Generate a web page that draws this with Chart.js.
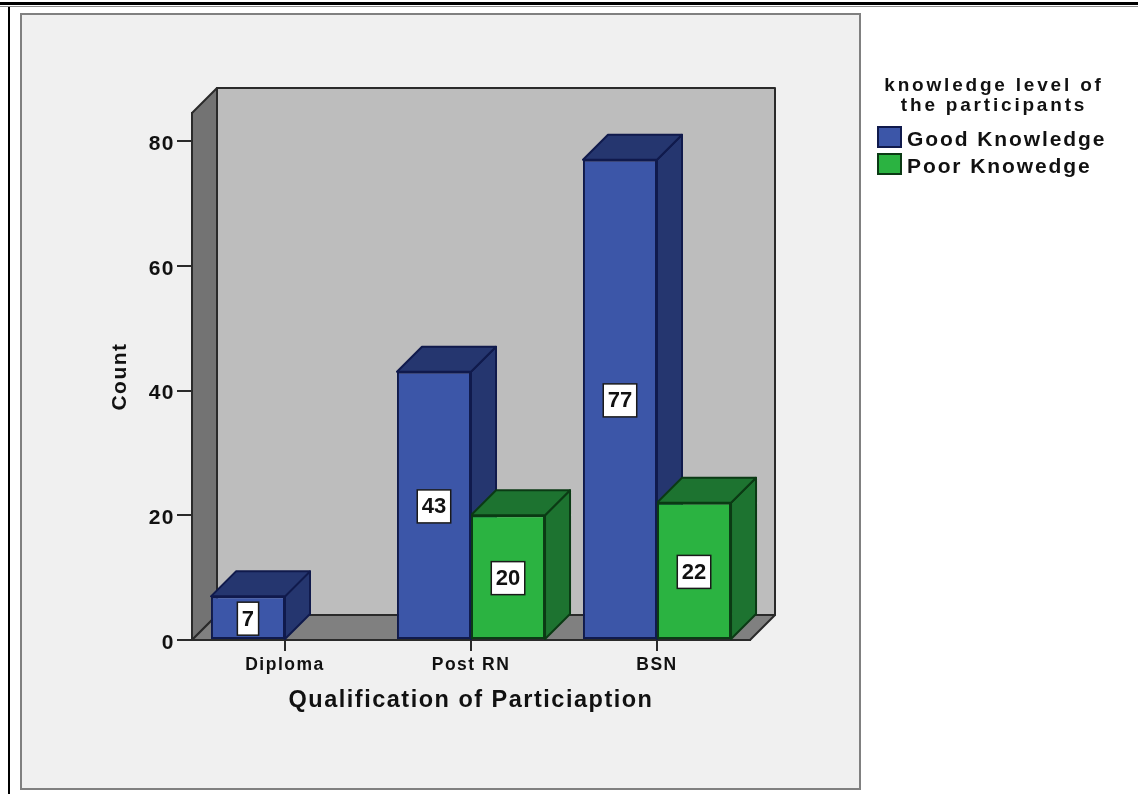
<!DOCTYPE html>
<html>
<head>
<meta charset="utf-8">
<title>Knowledge level by qualification</title>
<style>
  html, body { margin: 0; padding: 0; background: #fff; }
  canvas { display: block; }
</style>
</head>
<body>
<canvas id="chart1" width="1138" height="794"></canvas>
<script src="https://cdn.jsdelivr.net/npm/chart.js@4/dist/chart.umd.min.js"></script>
<script>
// counts per qualification
const categories = ['Diploma', 'Post RN', 'BSN'];
const goodKnowledge = [7, 43, 77];
const poorKnowledge = [null, 20, 22];
const seriesNames = ['Good Knowledge', 'Poor Knowedge'];
const legendHeading = ['knowledge level of', 'the participants'];

const yMax = 84.5;
const yStep = 20;
const depth = 25;

const FRONT = ['#3c56a8', '#2bb341'];
const SHADE = ['#25366f', '#1d7330'];
const EDGE = ['#101a4c', '#0b3a14'];
const LINE = '#2a2a2a';
const FONT = '"Liberation Sans", Arial, sans-serif';
const AXIS_SPACING = '1.5px';

function poly(ctx, pts, fill, stroke, lw) {
    ctx.beginPath();
    pts.forEach((p, i) => i ? ctx.lineTo(p[0], p[1]) : ctx.moveTo(p[0], p[1]));
    ctx.closePath();
    ctx.fillStyle = fill;
    ctx.fill();
    ctx.strokeStyle = stroke;
    ctx.lineWidth = lw;
    ctx.lineJoin = 'round';
    ctx.stroke();
}

// page frame, grey panel and the three walls of the box
const backdrop = {
    id: 'backdrop',
    beforeLayout(chart) {
        chart.ctx.letterSpacing = AXIS_SPACING;
    },
    beforeDraw(chart) {
        const ctx = chart.ctx;
        const { left, right, top, bottom } = chart.chartArea;
        ctx.save();
        ctx.fillStyle = '#fff';
        ctx.fillRect(0, 0, chart.width, chart.height);
        ctx.fillStyle = '#000';
        ctx.fillRect(0, 2, chart.width, 3);
        ctx.fillRect(8, 6, 2, chart.height - 6);
        ctx.fillStyle = '#8a8a8a';
        ctx.fillRect(0, 6, chart.width, 1);

        ctx.fillStyle = '#f0f0f0';
        ctx.fillRect(21, 14, 839, 775);
        ctx.strokeStyle = '#808080';
        ctx.lineWidth = 2;
        ctx.strokeRect(21, 14, 839, 775);

        poly(ctx, [[left + depth, top - depth], [right + depth, top - depth], [right + depth, bottom - depth], [left + depth, bottom - depth]], '#bdbdbd', LINE, 2);
        poly(ctx, [[left, top], [left + depth, top - depth], [left + depth, bottom - depth], [left, bottom]], '#737373', LINE, 2);
        poly(ctx, [[left, bottom], [left + depth, bottom - depth], [right + depth, bottom - depth], [right, bottom]], '#808080', LINE, 2);
        ctx.restore();
        ctx.letterSpacing = AXIS_SPACING;
    }
};

// top and side faces go down first, the library then paints the bar fronts over them
const barDepth = {
    id: 'barDepth',
    beforeDatasetsDraw(chart) {
        const ctx = chart.ctx;
        ctx.save();
        chart.data.datasets.forEach((ds, d) => {
            chart.getDatasetMeta(d).data.forEach((bar, i) => {
                if (ds.data[i] === null) return;
                const { x, y, base, width } = bar.getProps(['x', 'y', 'base', 'width'], true);
                const l = x - width / 2, r = x + width / 2;
                poly(ctx, [[r, y], [r + depth, y - depth], [r + depth, base - depth], [r, base]], SHADE[d], EDGE[d], 2);
                poly(ctx, [[l, y], [l + depth, y - depth], [r + depth, y - depth], [r, y]], SHADE[d], EDGE[d], 2);
            });
        });
        ctx.restore();
    }
};

// white value boxes in the middle of each bar front
const valueBoxes = {
    id: 'valueBoxes',
    afterDatasetsDraw(chart) {
        const ctx = chart.ctx;
        ctx.save();
        ctx.letterSpacing = '0px';
        ctx.font = 'bold 22px ' + FONT;
        ctx.textAlign = 'center';
        ctx.textBaseline = 'middle';
        chart.data.datasets.forEach((ds, d) => {
            chart.getDatasetMeta(d).data.forEach((bar, i) => {
                if (ds.data[i] === null) return;
                const { x, y, base } = bar.getProps(['x', 'y', 'base'], true);
                const text = String(ds.data[i]);
                const w = ctx.measureText(text).width + 9;
                const h = 33;
                const cy = (y + base) / 2 + 1;
                ctx.fillStyle = '#fff';
                ctx.fillRect(x - w / 2, cy - h / 2, w, h);
                ctx.strokeStyle = '#1a1a1a';
                ctx.lineWidth = 1.5;
                ctx.strokeRect(x - w / 2, cy - h / 2, w, h);
                ctx.fillStyle = '#111';
                ctx.fillText(text, x, cy + 1);
            });
        });
        ctx.restore();
    }
};

// key on the right of the panel
const sideKey = {
    id: 'sideKey',
    afterDraw(chart) {
        const ctx = chart.ctx;
        ctx.save();
        ctx.fillStyle = '#111';
        ctx.textBaseline = 'middle';
        ctx.textAlign = 'center';
        ctx.letterSpacing = '2.8px';
        ctx.font = 'bold 19px ' + FONT;
        legendHeading.forEach((line, i) => ctx.fillText(line, 994, 86 + i * 20));

        ctx.textAlign = 'left';
        ctx.letterSpacing = '1.9px';
        ctx.font = 'bold 21px ' + FONT;
        chart.data.datasets.forEach((ds, d) => {
            const y = 127 + d * 27;
            ctx.fillStyle = FRONT[d];
            ctx.fillRect(878, y, 23, 20);
            ctx.strokeStyle = EDGE[d];
            ctx.lineWidth = 2;
            ctx.strokeRect(878, y, 23, 20);
            ctx.fillStyle = '#111';
            ctx.fillText(ds.label, 907, y + 13);
        });
        ctx.restore();
    }
};

const knowledge_data = {
    labels: categories,
    datasets: [
        {
            label: seriesNames[0],
            data: goodKnowledge,
            backgroundColor: FRONT[0],
            borderColor: EDGE[0],
            borderWidth: 2,
            borderSkipped: false
        },
        {
            label: seriesNames[1],
            data: poorKnowledge,
            backgroundColor: FRONT[1],
            borderColor: EDGE[1],
            borderWidth: 2,
            borderSkipped: false
        }
    ]
};

const knowledge_config = {
    type: 'bar',
    data: knowledge_data,
    options: {
        responsive: false,
        animation: false,
        barPercentage: 1,
        categoryPercentage: 0.796,
        layout: { padding: { left: 100, right: 388, top: 113, bottom: 74 } },
        plugins: {
            legend: { display: false },
            tooltip: { enabled: false }
        },
        scales: {
            x: {
                afterFit(scale) { scale.height = 80; },
                grid: { offset: false, drawOnChartArea: false, color: LINE, lineWidth: 2, tickLength: 11 },
                border: { color: LINE, width: 2 },
                ticks: {
                    color: '#111',
                    padding: 4,
                    maxRotation: 0,
                    font: { family: FONT, size: 17.5, weight: 'bold' }
                },
                title: {
                    display: true,
                    text: 'Qualification of Particiaption',
                    color: '#111',
                    padding: { top: 0, bottom: 5 },
                    font: { family: FONT, size: 23.5, weight: 'bold' }
                }
            },
            y: {
                min: 0,
                max: yMax,
                afterFit(scale) { scale.width = 92; },
                grid: { drawOnChartArea: false, color: LINE, lineWidth: 2, tickLength: 15 },
                border: { color: LINE, width: 2 },
                ticks: {
                    stepSize: yStep,
                    includeBounds: false,
                    color: '#111',
                    padding: 2,
                    labelOffset: 3,
                    font: { family: FONT, size: 21, weight: 'bold' }
                },
                title: {
                    display: true,
                    text: 'Count',
                    color: '#111',
                    padding: { top: 8, bottom: 0 },
                    font: { family: FONT, size: 21, weight: 'bold' }
                }
            }
        }
    },
    plugins: [backdrop, barDepth, valueBoxes, sideKey]
};

const knowledge_chart = new Chart(document.getElementById('chart1'), knowledge_config);
</script>
</body>
</html>
